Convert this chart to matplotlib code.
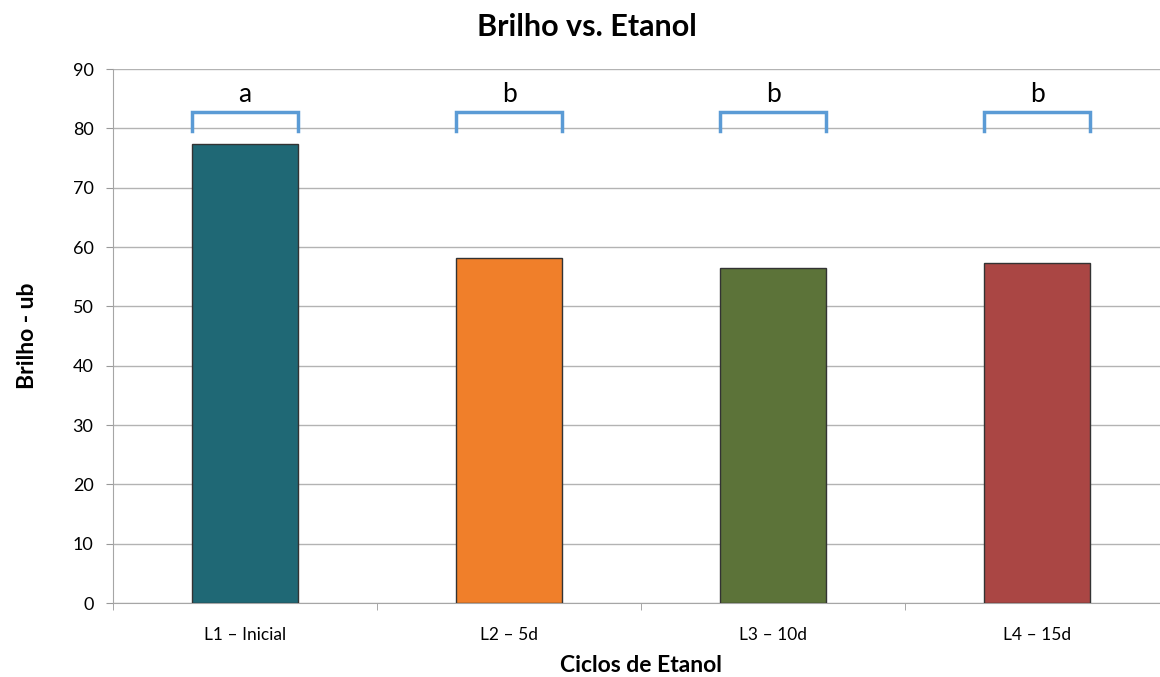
import matplotlib.pyplot as plt
import numpy as np

categories = ['L1 – Inicial', 'L2 – 5d', 'L3 – 10d', 'L4 – 15d']
brilho = [77.4, 58.1, 56.5, 57.3]
letters = ['a', 'b', 'b', 'b']
bar_colors = ['#1f6875', '#f07f2a', '#5c7339', '#aa4644']

plt.rcParams['font.family'] = ['Lato', 'DejaVu Sans']

fig = plt.figure(figsize=(11.6, 6.77), dpi=100)
ax = fig.add_axes([113 / 1160, 1 - 603 / 677, 1056 / 1160, 534 / 677])

x = np.arange(len(categories))
ax.bar(x, brilho, width=0.405, color=bar_colors, edgecolor='#333333', linewidth=1, zorder=3)

# brackets + significance letters
br_top = 82.8
br_low = 79.5
for xi, let in zip(x, letters):
    ax.plot([xi - 0.2, xi - 0.2, xi + 0.2, xi + 0.2], [br_low, br_top, br_top, br_low],
            color='#5b9bd5', lw=2.5, solid_joinstyle='miter', zorder=4, clip_on=False)
    ax.text(xi, 83.6, let, ha='center', va='bottom', fontsize=19, color='black')

ax.set_xlim(-0.5, len(categories) - 0.5)
ax.set_ylim(0, 90)
ax.set_yticks(range(0, 91, 10))
ax.set_xticks(x)
ax.set_xticklabels(categories, fontsize=12.5)
ax.set_xticks(np.arange(-0.5, len(categories)), minor=True)
ax.tick_params(axis='x', which='major', length=0, pad=17)
ax.tick_params(axis='x', which='minor', length=5, color='#999999', direction='out')
ax.tick_params(axis='y', length=5, color='#999999', labelsize=13, pad=9)

ax.yaxis.grid(True, color='#b3b3b3', lw=1, zorder=0)
for s in ['top', 'right']:
    ax.spines[s].set_visible(False)
for s in ['left', 'bottom']:
    ax.spines[s].set_color('#a6a6a6')

ax.set_xlabel('Ciclos de Etanol', fontsize=16.5, fontweight='bold', labelpad=9)
ax.set_ylabel('Brilho - ub', fontsize=16.5, fontweight='bold', labelpad=25)
fig.text(587 / 1160, 1 - 27 / 677, 'Brilho vs. Etanol', ha='center', va='center',
         fontsize=22, fontweight='bold')

fig.savefig('out.png', dpi=100)
